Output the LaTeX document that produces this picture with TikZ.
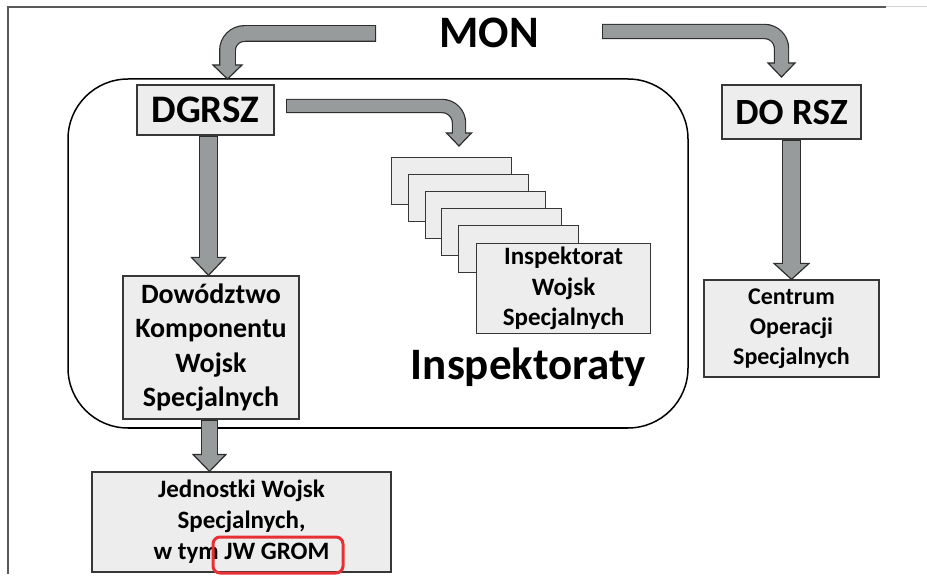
\documentclass[tikz,border=0pt]{standalone}
\usepackage{fontspec}
\setmainfont{Carlito}
\usepackage{tikz}
\usetikzlibrary{positioning}

\definecolor{boxfill}{RGB}{237,237,237}
\definecolor{boxline}{RGB}{55,55,55}
\definecolor{arrfill}{RGB}{152,155,155}
\definecolor{arrline}{RGB}{45,45,45}
\definecolor{gromred}{RGB}{232,48,52}

% fat grey arrow: shaft width, head half width, head length, start, path op, tip
\newcommand\fatarrow[6]{%
  \filldraw[arrhead] ([shift={(-#2pt,#3pt)}]#6) -- ([shift={(#2pt,#3pt)}]#6) -- (#6) -- cycle;
  \draw[arrrim, line width=#1pt+2.4pt] (#4) #5 ([yshift=#3pt]#6);
  \draw[arrbody, line width=#1pt, shorten <=1.2pt, shorten >=-2pt] (#4) #5 ([yshift=#3pt]#6);
}

\begin{document}
\begin{tikzpicture}[x=1pt,y=-1pt,
    box/.style={draw=boxline, fill=boxfill, line width=1.2pt, inner sep=0pt, align=center},
    big/.style={font=\bfseries\fontsize{45}{50}\selectfont},
    head/.style={box, font=\bfseries\fontsize{37}{42}\selectfont},
    txt/.style={box, font=\bfseries\fontsize{25}{31}\selectfont},
    arrhead/.style={fill=arrfill, draw=arrline, line width=1.2pt, line join=miter},
    arrrim/.style={draw=arrline, rounded corners=17pt},
    arrbody/.style={draw=arrfill, rounded corners=17pt}]
\useasboundingbox (0,0) rectangle (927,577);

% page frame
\draw[gray!35, line width=1pt] (886,7) -- (927,7);
\draw[black!65, line width=1.5pt] (886,7) -- (8,7) -- (8,574);

% DGRSZ panel
\draw[line width=1.5pt, rounded corners=60pt] (68,79) rectangle (688,428);

\node[big] (mon) at (489,33) {MON};
\node[head, font=\bfseries\fontsize{39}{42}\selectfont, minimum width=137pt, minimum height=50pt]
  (dgrsz) at (205.5,110) {DGRSZ};
\node[head, minimum width=139pt, minimum height=54pt] (dorsz) at (791.5,112) {DO RSZ};
\node[txt, font=\bfseries\fontsize{28}{34.5}\selectfont, minimum width=176pt, minimum height=143pt]
  (dkws) at (211,347.5) {Dowództwo\\Komponentu\\Wojsk\\Specjalnych};
\node[txt, font=\bfseries\fontsize{24}{30}\selectfont, minimum width=175pt, minimum height=97pt,
  below=216.5pt of dorsz.center, anchor=center] (cos) {Centrum\\Operacji\\Specjalnych};
\node[txt, minimum width=299pt, minimum height=100pt] (jws) at (241.5,522)
  {Jednostki Wojsk\\Specjalnych,\\w tym JW GROM};
\node[draw=gromred, line width=3pt, rounded corners=7pt, minimum width=130pt, minimum height=36pt]
  (grom) at (278,555) {};

% inspectorates stack
\foreach \i in {0,...,4}
  \node[box, anchor=north west, minimum width=120pt, minimum height=47pt]
    (insp\i) at (391+16.75*\i,157+17*\i) {};
\node[txt, anchor=north west, minimum width=174pt, minimum height=90pt, font=\bfseries\fontsize{25}{30.5}\selectfont]
  (insp) at (476,243) {Inspektorat\\Wojsk\\Specjalnych};
\node[big, anchor=base] (insplabel) at (528.5,380) {Inspektoraty};

% arrows
\coordinate (s1) at (376,33.5);   \coordinate (t1) at (227.5,79);
\coordinate (s2) at (602,31.5);   \coordinate (t2) at (781.5,77);
\coordinate (s3) at (286,106);    \coordinate (t3) at (459,146);
\coordinate (t4) at ([xshift=-2.5pt]dkws.north);  \coordinate (s4) at (t4 |- dgrsz.south);
\coordinate (t5) at (cos.north);                  \coordinate (s5) at (t5 |- dorsz.south);
\coordinate (s6) at ([xshift=-1.5pt]dkws.south);  \coordinate (t6) at (s6 |- jws.north);
\fatarrow{14.5}{14.5}{14}{s1}{-|}{t1}
\fatarrow{13}{13.5}{14}{s2}{-|}{t2}
\fatarrow{12}{12.5}{13}{s3}{-|}{t3}
\fatarrow{17}{17}{18}{s4}{--}{t4}
\fatarrow{17}{17.5}{16}{s5}{--}{t5}
\fatarrow{15}{16.5}{17}{s6}{--}{t6}
\end{tikzpicture}
\end{document}
